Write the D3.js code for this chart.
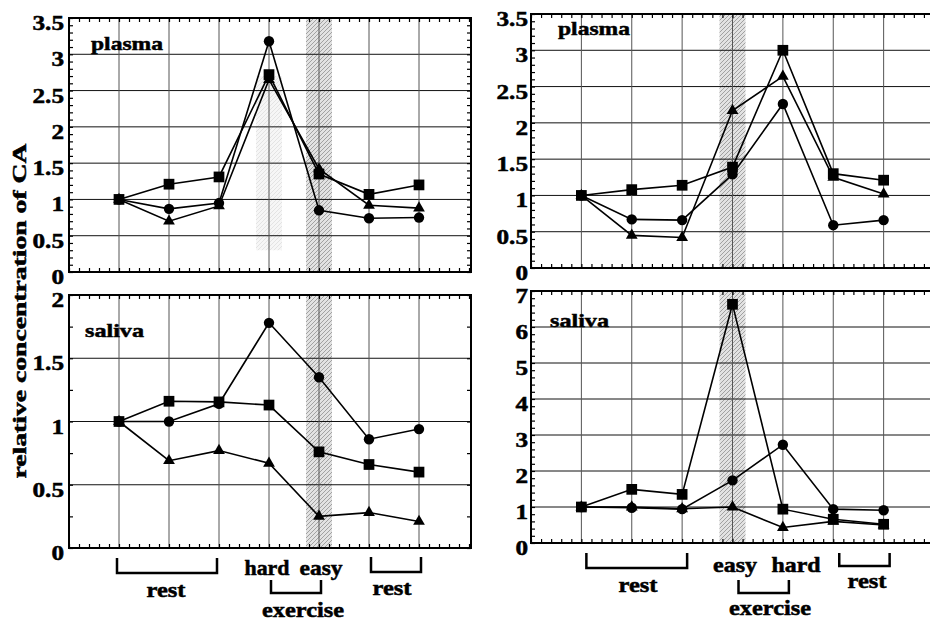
<!DOCTYPE html>
<html>
<head>
<meta charset="utf-8">
<script src="https://cdn.jsdelivr.net/npm/d3@7"></script>
<style>
  body { margin: 0; background: #fff; }
</style>
</head>
<body>
<div id="chart"></div>
<script>
// sample positions along the protocol
const samples = [1, 2, 3, 4, 5, 6, 7];

// plasma, left experiment (hard then easy)
const plasmaL_square   = [1.0, 1.21, 1.31, 2.72, 1.35, 1.07, 1.20];
const plasmaL_circle   = [1.0, 0.87, 0.95, 3.18, 0.85, 0.74, 0.75];
const plasmaL_triangle = [1.0, 0.70, 0.91, 2.65, 1.42, 0.92, 0.88];

// saliva, left experiment
const salivaL_circle   = [1.0, 1.00, 1.14, 1.78, 1.35, 0.86, 0.94];
const salivaL_square   = [1.0, 1.16, 1.155, 1.13, 0.76, 0.66, 0.60];
const salivaL_triangle = [1.0, 0.69, 0.77, 0.67, 0.25, 0.28, 0.21];

// plasma, right experiment (easy then hard)
const plasmaR_square   = [1.0, 1.08, 1.14, 1.39, 3.00, 1.30, 1.21];
const plasmaR_circle   = [1.0, 0.67, 0.66, 1.29, 2.26, 0.59, 0.66];
const plasmaR_triangle = [1.0, 0.45, 0.42, 2.17, 2.64, 1.25, 1.02];

// saliva, right experiment
const salivaR_square   = [1.0, 1.49, 1.35, 6.63, 0.94, 0.66, 0.52];
const salivaR_circle   = [1.0, 0.98, 0.94, 1.74, 2.73, 0.94, 0.91];
const salivaR_triangle = [1.0, 1.00, 0.95, 1.00, 0.43, 0.60, 0.50];

// y tick labels
const ticksPlasma = [0, 0.5, 1, 1.5, 2, 2.5, 3, 3.5];
const ticksSalivaL = [0, 0.5, 1, 1.5, 2];
const ticksSalivaR = [0, 1, 2, 3, 4, 5, 6, 7];

const FONT = "Liberation Serif";
const fullWidth = 930;
const fullHeight = 620;

const svg = d3.select("#chart")
  .append("svg")
  .attr("width", fullWidth)
  .attr("height", fullHeight)
  .style("background", "#fff");

// printed-looking heavy serif text
const addText = (sel, str, size) =>
  sel.append("text")
    .attr("font-family", FONT)
    .attr("font-weight", "bold")
    .attr("font-size", size)
    .attr("fill", "#000")
    .attr("stroke", "#000")
    .attr("stroke-width", 0.5)
    .text(str);

// hatched band for the exercise sample
const defs = svg.append("defs");
const pat = defs.append("pattern")
  .attr("id", "hatch")
  .attr("patternUnits", "userSpaceOnUse")
  .attr("width", 4)
  .attr("height", 4);
pat.append("rect").attr("width", 4).attr("height", 4).attr("fill", "#e2e2e2");
pat.append("path").attr("d", "M0,4 L4,0 M-1,1 L1,-1 M3,5 L5,3")
  .attr("stroke", "#9a9a9a").attr("stroke-width", 0.9);

const xLeft = d3.scaleLinear().domain([0, 8.04]).range([69, 471]);
const xRight = d3.scaleLinear().domain([0, 8]).range([531, 934]);

const panels = [
  { x: xLeft, top: 18, bottom: 272, max: 3.5, ticks: ticksPlasma, minor: 0.1,
    label: "plasma", lx: 91, ly: 50, band: 5, faint: 4,
    series: [plasmaL_square, plasmaL_circle, plasmaL_triangle], labelRight: 64 },
  { x: xLeft, top: 295, bottom: 548, max: 2, ticks: ticksSalivaL, minor: 0.25,
    label: "saliva", lx: 85, ly: 337, band: 5,
    series: [salivaL_square, salivaL_circle, salivaL_triangle], labelRight: 64 },
  { x: xRight, top: 14, bottom: 268, max: 3.5, ticks: ticksPlasma, minor: 0.1,
    label: "plasma", lx: 558, ly: 35, band: 4,
    series: [plasmaR_square, plasmaR_circle, plasmaR_triangle], labelRight: 528 },
  { x: xRight, top: 291, bottom: 543, max: 7, ticks: ticksSalivaR, minor: 0.2,
    label: "saliva", lx: 550, ly: 327, band: 4,
    series: [salivaR_square, salivaR_circle, salivaR_triangle], labelRight: 528 }
];

const shapes = [d3.symbolSquare, d3.symbolCircle, d3.symbolTriangle];
const shapeSize = [115, 85, 60];

panels.forEach(p => {
  const x = p.x;
  const y = d3.scaleLinear().domain([0, p.max]).range([p.bottom, p.top]);
  const [x0, x1] = x.range();
  const clipId = "clip" + p.top + "_" + x0;
  defs.append("clipPath").attr("id", clipId)
    .append("rect").attr("x", x0).attr("y", p.top)
    .attr("width", x1 - x0).attr("height", p.bottom - p.top);

  const g = svg.append("g");
  const inner = g.append("g").attr("clip-path", `url(#${clipId})`);

  // shaded bands
  if (p.faint) {
    inner.append("rect")
      .attr("x", x(p.faint) - 13).attr("y", y(2.7))
      .attr("width", 26).attr("height", y(0.3) - y(2.7))
      .attr("fill", "url(#hatch)").attr("opacity", 0.3);
  }
  inner.append("rect")
    .attr("x", x(p.band) - 13).attr("y", p.top)
    .attr("width", 26).attr("height", p.bottom - p.top)
    .attr("fill", "url(#hatch)");

  // grid
  inner.selectAll(".hgrid").data(p.ticks.filter(t => t > 0 && t < p.max))
    .enter().append("line")
    .attr("x1", x0).attr("x2", x1)
    .attr("y1", d => y(d)).attr("y2", d => y(d))
    .attr("stroke", "#111").attr("stroke-width", 1);
  inner.selectAll(".vgrid").data(samples)
    .enter().append("line")
    .attr("x1", d => x(d)).attr("x2", d => x(d))
    .attr("y1", p.top).attr("y2", p.bottom)
    .attr("stroke", "#555").attr("stroke-width", 1);

  // minor ticks on all four sides
  const minorY = d3.range(0, p.max + 1e-9, p.minor);
  const minorX = d3.range(0, 8.01, 0.2);
  g.append("g").attr("transform", `translate(${x0},0)`)
    .call(d3.axisLeft(y).tickValues(minorY).tickSize(-4).tickFormat(""));
  g.append("g").attr("transform", `translate(${x1},0)`)
    .call(d3.axisRight(y).tickValues(minorY).tickSize(-4).tickFormat(""));
  g.append("g").attr("transform", `translate(0,${p.bottom})`)
    .call(d3.axisBottom(x).tickValues(minorX).tickSize(-4).tickFormat(""));
  g.append("g").attr("transform", `translate(0,${p.top})`)
    .call(d3.axisTop(x).tickValues(minorX).tickSize(-4).tickFormat(""));
  g.selectAll(".domain").remove();
  g.selectAll(".tick line").attr("stroke", "#000").attr("stroke-width", 1.2);

  // frame
  g.append("rect")
    .attr("x", x0).attr("y", p.top)
    .attr("width", x1 - x0).attr("height", p.bottom - p.top)
    .attr("fill", "none").attr("stroke", "#000").attr("stroke-width", 2);

  // y tick labels
  p.ticks.forEach(d => {
    addText(g, d, 21)
      .attr("text-anchor", "end")
      .attr("transform", `translate(${p.labelRight},${y(d) + 12}) scale(1.2,1)`);
  });

  // series lines and markers
  const line = d3.line().x((d, i) => x(samples[i])).y(d => y(d));
  p.series.forEach((s, k) => {
    g.append("path").datum(s)
      .attr("d", line)
      .attr("fill", "none").attr("stroke", "#000").attr("stroke-width", 1.6);
    g.selectAll(null).data(s).enter().append("path")
      .attr("d", d3.symbol().type(shapes[k]).size(shapeSize[k]))
      .attr("transform", (d, i) => `translate(${x(samples[i])},${y(d)})`)
      .attr("fill", "#000");
  });

  // panel name
  addText(g, p.label, 19)
    .attr("x", p.lx).attr("y", p.ly)
    .attr("textLength", p.label === "plasma" ? 72 : 59)
    .attr("lengthAdjust", "spacingAndGlyphs");
});

// y axis title
addText(svg, "relative concentration of CA", 19)
  .attr("transform", "translate(26,311) rotate(-90)")
  .attr("text-anchor", "middle")
  .attr("textLength", 335)
  .attr("lengthAdjust", "spacingAndGlyphs");

// protocol brackets under the saliva panels
const brackets = [
  { x: xLeft, from: 1, to: 3, top: 558, bot: 573, dx: -2, text: "rest", tx: 166, ty: 597 },
  { x: xLeft, from: 4, to: 5, top: 580, bot: 593, dx: 2, text: "exercise", tx: 303, ty: 617 },
  { x: xLeft, from: 6, to: 7, top: 557, bot: 572, dx: 2, text: "rest", tx: 392, ty: 595 },
  { x: xRight, from: 1, to: 3, top: 553, bot: 568, dx: 5, text: "rest", tx: 638, ty: 592 },
  { x: xRight, from: 4, to: 5, top: 580, bot: 593, dx: 6, text: "exercise", tx: 770, ty: 615 },
  { x: xRight, from: 6, to: 7, top: 553, bot: 566, dx: 6, text: "rest", tx: 867, ty: 588 }
];
brackets.forEach(b => {
  const a = b.x(b.from) + b.dx, c = b.x(b.to) + b.dx;
  svg.append("path")
    .attr("d", `M${a},${b.top} V${b.bot} H${c} V${b.top}`)
    .attr("fill", "none").attr("stroke", "#000").attr("stroke-width", 2.5);
  addText(svg, b.text, 20)
    .attr("x", b.tx).attr("y", b.ty)
    .attr("text-anchor", "middle")
    .attr("textLength", b.text === "rest" ? 39 : 82)
    .attr("lengthAdjust", "spacingAndGlyphs");
});

// exercise intensity words
const intensity = [
  { text: "hard", x: 267, y: 575, w: 45 },
  { text: "easy", x: 321, y: 575, w: 43 },
  { text: "easy", x: 735, y: 572, w: 44 },
  { text: "hard", x: 796, y: 572, w: 49 }
];
intensity.forEach(t => {
  addText(svg, t.text, 20)
    .attr("x", t.x).attr("y", t.y)
    .attr("text-anchor", "middle")
    .attr("textLength", t.w)
    .attr("lengthAdjust", "spacingAndGlyphs");
});
</script>
</body>
</html>
